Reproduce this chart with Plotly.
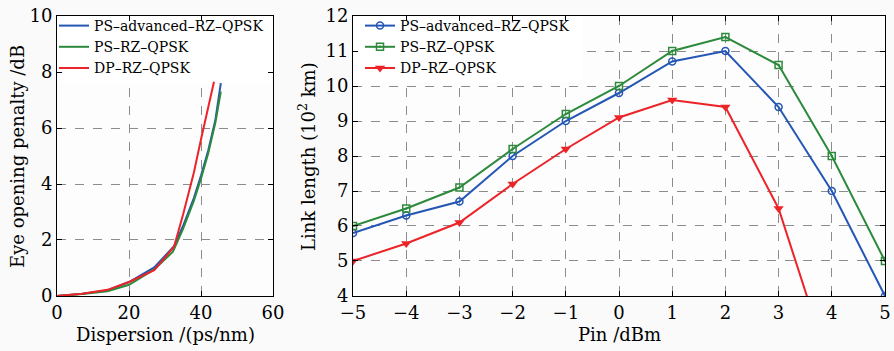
import plotly.graph_objects as go

# Left panel: eye opening penalty vs dispersion
disp_blue = [0, 7, 14, 20, 27, 32.5, 35, 38, 40, 42, 44, 45.5]
eop_blue = [0, 0.08, 0.2, 0.5, 1.02, 1.78, 2.5, 3.5, 4.3, 5.2, 6.3, 7.6]
disp_green = [0, 7, 14, 20, 27, 32.2, 35, 38, 40, 42, 44, 45.5]
eop_green = [0, 0.07, 0.17, 0.4, 0.95, 1.58, 2.4, 3.4, 4.2, 5.1, 6.2, 7.3]
disp_red = [0, 7, 14, 20, 27, 32.5, 35, 37.3, 38, 40, 42, 43.6]
eop_red = [0, 0.08, 0.22, 0.5, 0.92, 1.76, 2.9, 4.0, 4.4, 5.6, 6.7, 7.65]

# Right panel: link length vs launch power
pin = [-5, -4, -3, -2, -1, 0, 1, 2, 3, 4, 5]
len_blue = [5.8, 6.3, 6.7, 8.0, 9.0, 9.8, 10.7, 11.0, 9.4, 7.0, 4.0]
len_green = [6.0, 6.5, 7.1, 8.2, 9.2, 10.0, 11.0, 11.4, 10.6, 8.0, 5.0]
pin_red = [-5, -4, -3, -2, -1, 0, 1, 2, 3, 4]
len_red = [5.0, 5.5, 6.1, 7.2, 8.2, 9.1, 9.6, 9.4, 6.5, 1.8]

names = ["PS\u2013advanced\u2013RZ\u2013QPSK", "PS\u2013RZ\u2013QPSK", "DP\u2013RZ\u2013QPSK"]
BLUE, GREEN, RED = "#2456b4", "#2d8a3c", "#ec2328"
FONT = "DejaVu Serif"
TITLE_FONT = dict(family=FONT, size=18, color="black")

fig = go.Figure()
for xs, ys, c, n in [(disp_blue, eop_blue, BLUE, names[0]),
                     (disp_green, eop_green, GREEN, names[1]),
                     (disp_red, eop_red, RED, names[2])]:
    fig.add_trace(go.Scatter(x=xs, y=ys, mode="lines", name=n,
                             line=dict(color=c, width=2), xaxis="x", yaxis="y",
                             legend="legend"))

fig.add_trace(go.Scatter(x=pin, y=len_blue, mode="lines+markers", name=names[0],
                         line=dict(color=BLUE, width=2),
                         marker=dict(symbol="circle-open", size=7, color=BLUE, line=dict(width=1.5)),
                         xaxis="x2", yaxis="y2", legend="legend2"))
fig.add_trace(go.Scatter(x=pin, y=len_green, mode="lines+markers", name=names[1],
                         line=dict(color=GREEN, width=2),
                         marker=dict(symbol="square-open-dot", size=7, color=GREEN, line=dict(width=1.5)),
                         xaxis="x2", yaxis="y2", legend="legend2"))
fig.add_trace(go.Scatter(x=pin_red, y=len_red, mode="lines+markers", name=names[2],
                         line=dict(color=RED, width=2),
                         marker=dict(symbol="triangle-down", size=9, color=RED),
                         xaxis="x2", yaxis="y2", legend="legend2"))

ax_common = dict(showline=True, linecolor="black", linewidth=1, mirror="allticks",
                 ticks="inside", ticklen=5, tickcolor="black", zeroline=False,
                 showgrid=True, gridcolor="#8c8c8c", griddash="dash", gridwidth=1,
                 automargin=False,
                 tickfont=dict(family=FONT, size=18, color="black"))

# white panels behind the legends that hide the grid (between grid and traces)
legend_boxes = [
    dict(type="rect", xref="x", yref="y", x0=0, x1=60, y0=7.6, y1=10,
         fillcolor="white", line=dict(width=0), layer="between"),
    dict(type="rect", xref="x2", yref="y2", x0=-5, x1=-0.7, y0=10.1, y1=12,
         fillcolor="white", line=dict(width=0), layer="between"),
]

fig.update_layout(
    width=894, height=351,
    margin=dict(l=0, r=0, t=0, b=0),
    paper_bgcolor="#fafafa", plot_bgcolor="#fdfdfd",
    font=dict(family=FONT, color="black"),
    xaxis=dict(domain=[0.0638, 0.3054], range=[0, 60], dtick=20, anchor="y", **ax_common),
    yaxis=dict(domain=[0.1567, 0.9544], range=[0, 10], dtick=2, anchor="x", **ax_common),
    xaxis2=dict(domain=[0.3949, 0.9899], range=[-5, 5], dtick=1, anchor="y2", **ax_common),
    yaxis2=dict(domain=[0.1567, 0.9544], range=[4, 12], dtick=1, anchor="x2", **ax_common),
    shapes=legend_boxes,
    annotations=[
        dict(text="Dispersion /(ps/nm)", x=0.1846, y=0.0456, xref="paper", yref="paper",
             xanchor="center", yanchor="middle", showarrow=False, font=TITLE_FONT),
        dict(text="Pin /dBm", x=0.6924, y=0.0456, xref="paper", yref="paper",
             xanchor="center", yanchor="middle", showarrow=False, font=TITLE_FONT),
        dict(text="Eye opening penalty /dB", x=0.0201, y=0.5556, xref="paper", yref="paper",
             xanchor="center", yanchor="middle", textangle=-90, showarrow=False, font=TITLE_FONT),
        dict(text="Link length (10<sup>2</sup> km)", x=0.3434, y=0.5556, xref="paper", yref="paper",
             xanchor="center", yanchor="middle", textangle=-90, showarrow=False, font=TITLE_FONT),
    ],
    legend=dict(x=0.0604, y=0.9715, xanchor="left", yanchor="top", bgcolor="rgba(0,0,0,0)",
                font=dict(family=FONT, size=14, color="black"), tracegroupgap=0,
                itemwidth=30),
    legend2=dict(x=0.4027, y=0.9715, xanchor="left", yanchor="top", bgcolor="rgba(0,0,0,0)",
                 font=dict(family=FONT, size=14, color="black"), tracegroupgap=0,
                 itemwidth=30),
    showlegend=True,
)

fig.write_html("out.html", config={"displayModeBar": False},
               post_script="document.body.style.margin='0';")
